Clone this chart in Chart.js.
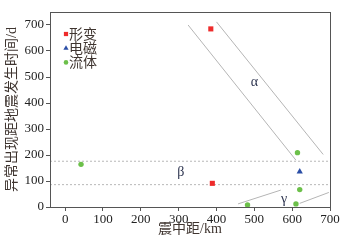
<!DOCTYPE html>
<html>
<head>
<meta charset="utf-8">
<script src="https://cdn.jsdelivr.net/npm/chart.js@4/dist/chart.umd.min.js"></script>
<style>
  html, body { margin: 0; padding: 0; background: #fff; }
  #wrap { width: 351px; height: 243px; }
</style>
</head>
<body>
<div id="wrap"><canvas id="chart"></canvas></div>
<script>
// 数据 (震中距 km, 时间 d)
const xingbianX = [385, 389];
const xingbianY = [685, 91];
const dianciX = [620];
const dianciY = [136];
const liutiX = [42, 614, 620, 482, 610];
const liutiY = [164, 209, 67, 8, 12];

// 水平虚线
const hLineY = [176, 86];
const hLineX = [-40, 700];

// 斜线 [x1, y1, x2, y2]
const alpha1 = [325, 700, 610, 180];
const alpha2 = [400, 712, 682, 202];
const gamma1 = [457, 12, 570, 65];
const gamma2 = [620, 14, 697, 56];

// 区域标注
const zoneNames = ['α', 'β', 'γ'];
const zoneX = [500, 306, 579];
const zoneY = [478, 132, 30];

const xTicks = [0, 100, 200, 300, 400, 500, 600, 700];
const yTicks = [0, 100, 200, 300, 400, 500, 600, 700];

const pts = (xs, ys) => xs.map((x, i) => ({ x: x, y: ys[i] }));
const seg = s => [{ x: s[0], y: s[1] }, { x: s[2], y: s[3] }];

const serif = "'Liberation Serif', 'Noto Sans CJK SC', serif";
const titleColor = '#3f3530';

function guide(data, dashed) {
    return {
        label: '',
        data: data,
        showLine: true,
        borderColor: dashed ? '#b8b8b8' : '#b5b5b5',
        borderWidth: 1,
        borderDash: dashed ? [2, 2] : [],
        pointRadius: 0,
        pointHoverRadius: 0,
        fill: false
    };
}

const datasets = [
    { label: '形变', data: pts(xingbianX, xingbianY), pointStyle: 'rect', pointRadius: 3.6, backgroundColor: '#ee2b2b', borderColor: '#ee2b2b', borderWidth: 0 },
    { label: '电磁', data: pts(dianciX, dianciY), pointStyle: 'triangle', pointRadius: 3.6, backgroundColor: '#2b4ea6', borderColor: '#2b4ea6', borderWidth: 0 },
    { label: '流体', data: pts(liutiX, liutiY), pointStyle: 'circle', pointRadius: 2.7, backgroundColor: '#6cc04a', borderColor: '#6cc04a', borderWidth: 0 },
    guide(pts(hLineX, [hLineY[0], hLineY[0]]), true),
    guide(pts(hLineX, [hLineY[1], hLineY[1]]), true),
    guide(seg(alpha1)), guide(seg(alpha2)),
    guide(seg(gamma1)), guide(seg(gamma2))
];

// 外框 + 图例 + 希腊字母标注
const framePlugin = {
    id: 'frame',
    afterDatasetsDraw(chart) {
        const { ctx, chartArea: a, scales: { x, y } } = chart;
        ctx.save();
        ctx.strokeStyle = '#555';
        ctx.lineWidth = 1;
        ctx.strokeRect(a.left + 0.5, a.top + 0.5, a.right - a.left, a.bottom - a.top);

        // 图例
        ctx.font = "14px " + serif;
        ctx.textAlign = 'left';
        ctx.textBaseline = 'middle';
        chart.data.datasets.filter(d => d.label !== '').forEach((d, i) => {
            const ly = a.top + 22 + i * 14.2;
            const lx = a.left + 16;
            ctx.fillStyle = d.backgroundColor;
            Chart.helpers.drawPoint(ctx, { pointStyle: d.pointStyle, radius: d.pointStyle === 'circle' ? 2.3 : 3, rotation: 0, borderWidth: 0 }, lx, ly);
            ctx.fillStyle = titleColor;
            ctx.fillText(d.label, lx + 3, ly + 1);
        });

        ctx.fillStyle = '#2e3550';
        ctx.font = "14px " + serif;
        ctx.textAlign = 'center';
        zoneNames.forEach((n, i) => {
            ctx.fillText(n, x.getPixelForValue(zoneX[i]), y.getPixelForValue(zoneY[i]));
        });
        ctx.restore();
    }
};

new Chart(document.getElementById('chart'), {
    type: 'scatter',
    data: { datasets: datasets },
    options: {
        responsive: true,
        maintainAspectRatio: false,
        animation: false,
        layout: { padding: { top: 12, right: 21, left: 0, bottom: 0 } },
        plugins: {
            tooltip: { enabled: false },
            legend: { display: false }
        },
        scales: {
            x: {
                type: 'linear',
                min: -40,
                max: 700,
                afterBuildTicks: s => { s.ticks = xTicks.map(v => ({ value: v })); },
                afterFit: s => { s.height = 36; },
                grid: { drawOnChartArea: false, tickLength: 4, color: '#555' },
                border: { color: '#555' },
                ticks: { color: '#222', padding: 1, maxRotation: 0, font: { size: 13, family: serif } },
                title: { display: true, text: '震中距/km', color: titleColor, padding: { top: 0, bottom: 5 }, font: { size: 14, family: serif } }
            },
            y: {
                type: 'linear',
                min: 0,
                max: 750,
                afterBuildTicks: s => { s.ticks = yTicks.map(v => ({ value: v })); },
                afterFit: s => { s.width = 50; },
                grid: { drawOnChartArea: false, tickLength: 4, color: '#555' },
                border: { color: '#555' },
                ticks: { color: '#222', padding: 2, font: { size: 13, family: serif } },
                title: { display: true, text: '异常出现距地震发生时间/d', color: titleColor, padding: { top: 4, bottom: 0 }, font: { size: 14, family: serif } }
            }
        }
    },
    plugins: [framePlugin]
});
</script>
</body>
</html>
